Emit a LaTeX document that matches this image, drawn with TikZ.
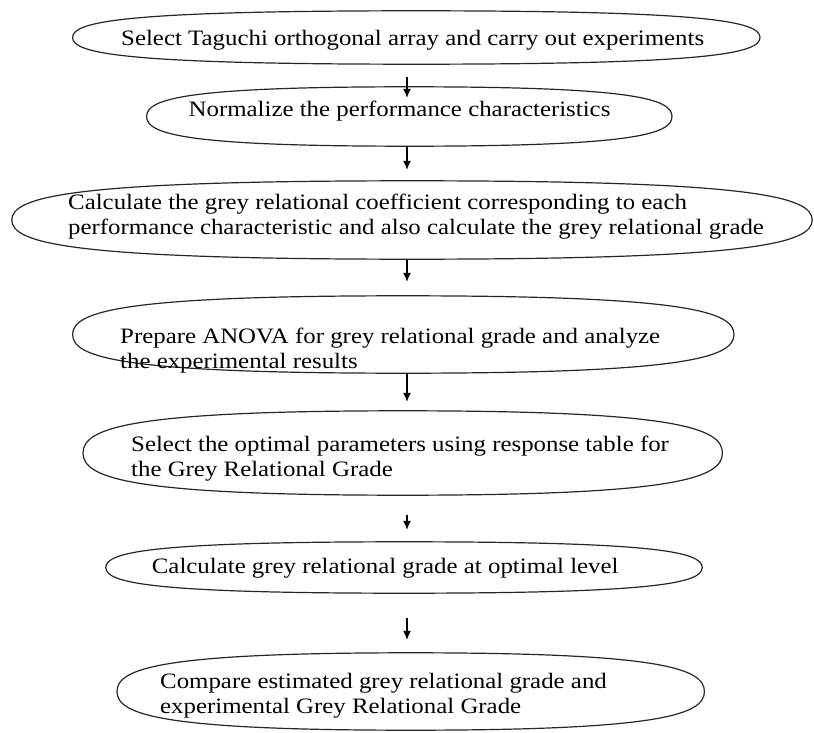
\documentclass[tikz,border=0pt]{standalone}
\usepackage{fontspec}
\setmainfont{Liberation Serif}[FakeStretch=1.13]
\usetikzlibrary{arrows.meta,calc}
\newcommand\ka{0.6}
\newcommand\kb{0.85}
\newcommand\ovl[1]{%
  \draw[outl] (#1.west)
    .. controls ($(#1.west)!\ka!(#1.north west)$) and ($(#1.north)!\kb!(#1.north west)$) .. (#1.north)
    .. controls ($(#1.north)!\kb!(#1.north east)$) and ($(#1.east)!\ka!(#1.north east)$) .. (#1.east)
    .. controls ($(#1.east)!\ka!(#1.south east)$) and ($(#1.south)!\kb!(#1.south east)$) .. (#1.south)
    .. controls ($(#1.south)!\kb!(#1.south west)$) and ($(#1.west)!\ka!(#1.south west)$) .. (#1.west) -- cycle;}
\begin{document}
\begin{tikzpicture}[x=1pt,y=1pt,
  boxarea/.style={draw=none,rectangle,inner sep=0pt},
  outl/.style={line width=1.2pt,black!85},
  txt/.style={font=\fontsize{22}{25}\selectfont,inner sep=0pt,align=left,anchor=west},
  arr/.style={line width=1.2pt,-{Latex[length=9pt,width=8pt]}}]
\useasboundingbox (0,0) rectangle (814,-733);
% box areas
\node[boxarea,minimum width=687pt,minimum height=53pt] (b1) at (416.3,-37.5) {};
\node[boxarea,minimum width=525pt,minimum height=59pt] (b2) at (409.3,-116.5) {};
\node[boxarea,minimum width=800pt,minimum height=78pt] (b3) at (412,-220) {};
\node[boxarea,minimum width=661pt,minimum height=77pt] (b4) at (403.3,-334.5) {};
\node[boxarea,minimum width=639pt,minimum height=84pt] (b5) at (402.7,-453) {};
\node[boxarea,minimum width=596pt,minimum height=51pt] (b6) at (404,-567.5) {};
\node[boxarea,minimum width=587pt,minimum height=77pt] (b7) at (410.7,-691.5) {};
\foreach \n in {b1,b2,b3,b4,b5,b6,b7}{\ovl{\n}}
% texts
\node[txt] (t1) at (121,-40) {Select Taguchi orthogonal array and carry out experiments};
\node[txt] (t2) at (188.5,-111.5) {Normalize the performance characteristics};
\node[txt] (t3) at (68,-217) {Calculate the grey relational coefficient corresponding to each\\performance characteristic and also calculate the grey relational grade};
\node[txt] (t4) at (120,-351) {Prepare ANOVA for grey relational grade and analyze\\the experimental results};
\node[txt] (t5) at (131,-459) {Select the optimal parameters using response table for\\the Grey Relational Grade};
\node[txt] (t6) at (151.7,-568.7) {Calculate grey relational grade at optimal level};
\node[txt] (t7) at (160,-696.2) {Compare estimated grey relational grade and\\experimental Grey Relational Grade};
% arrows
\coordinate (ax) at (407,0);
\draw[arr,shorten <=13pt,shorten >=-11pt] (b1.south -| ax) -- (b2.north -| ax);
\draw[arr,shorten <=1pt,shorten >=11pt] (b2.south -| ax) -- (b3.north -| ax);
\draw[arr,shorten <=1pt,shorten >=14pt] (b3.south -| ax) -- (b4.north -| ax);
\draw[arr,shorten <=0pt,shorten >=9pt] (b4.south -| ax) -- (b5.north -| ax);
\draw[arr,shorten <=20pt,shorten >=12pt] (b5.south -| ax) -- (b6.north -| ax);
\draw[arr,shorten <=25pt,shorten >=13pt] (b6.south -| ax) -- (b7.north -| ax);
\end{tikzpicture}
\end{document}
